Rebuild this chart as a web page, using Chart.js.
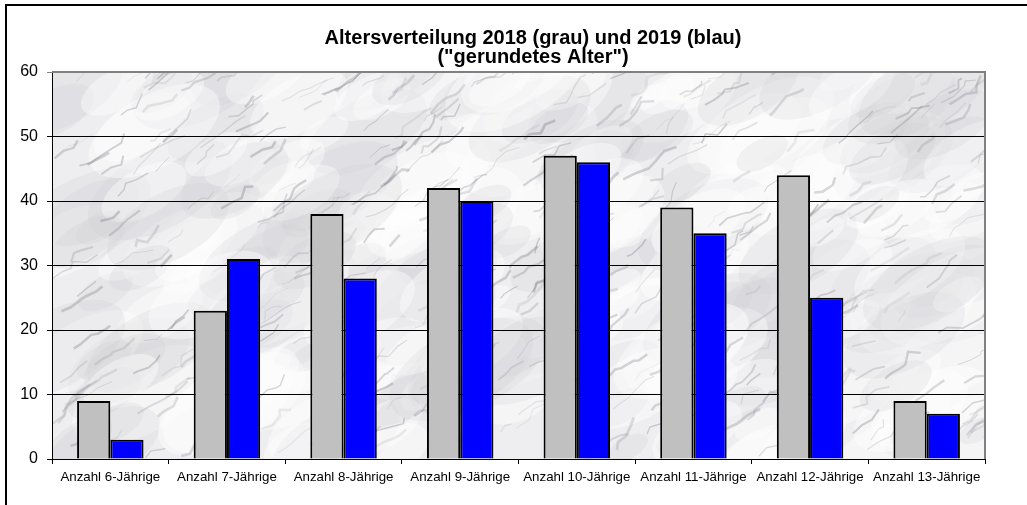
<!DOCTYPE html>
<html>
<head>
<meta charset="utf-8">
<script src="https://cdn.jsdelivr.net/npm/chart.js@4/dist/chart.umd.min.js"></script>
<style>
  html, body { margin: 0; padding: 0; background: #fff; }
  #wrap { width: 1027px; height: 505px; position: relative; }
</style>
</head>
<body>
<div id="wrap"><canvas id="c" width="1027" height="505"></canvas></div>
<script>
const categories = ['Anzahl 6-Jährige', 'Anzahl 7-Jährige', 'Anzahl 8-Jährige', 'Anzahl 9-Jährige',
  'Anzahl 10-Jährige', 'Anzahl 11-Jährige', 'Anzahl 12-Jährige', 'Anzahl 13-Jährige'];
const values2018 = [9, 23, 38, 42, 47, 39, 44, 9];
const values2019 = [3, 31, 28, 40, 46, 35, 25, 7];
const titleLines = ['Altersverteilung 2018 (grau) und 2019 (blau)', '("gerundetes Alter")'];

const FONT = 'Liberation Sans, Arial, sans-serif';

// marble-ish backdrop for the plot area (decoration only)
function makeMarble(w, h) {
  const cv = document.createElement('canvas');
  cv.width = w; cv.height = h;
  const g = cv.getContext('2d');
  g.fillStyle = '#eeeef0';
  g.fillRect(0, 0, w, h);
  let s = 12345;
  const rnd = () => { s = (s * 16807) % 2147483647; return s / 2147483647; };
  for (let i = 0; i < 260; i++) {
    const x = rnd() * w, y = rnd() * h;
    const r = 20 + rnd() * 60;
    g.fillStyle = rnd() < 0.55 ? 'rgba(255,255,255,0.4)' : 'rgba(205,205,210,0.22)';
    g.beginPath(); g.ellipse(x, y, r, r * 0.5, -0.5, 0, Math.PI * 2); g.fill();
  }
  for (let i = 0; i < 380; i++) {
    let x = rnd() * w, y = rnd() * h;
    g.strokeStyle = 'rgba(120,120,130,' + (0.1 + rnd() * 0.25) + ')';
    g.lineWidth = 0.8 + rnd() * 2;
    g.beginPath(); g.moveTo(x, y);
    const n = 2 + Math.floor(rnd() * 4);
    for (let k = 0; k < n; k++) {
      x += 3 + rnd() * 9; y -= 2 + rnd() * 7;
      g.lineTo(x + (rnd() - 0.5) * 5, y + (rnd() - 0.5) * 5);
    }
    g.stroke();
  }
  return cv;
}

const decor = {
  id: 'decor',
  beforeDraw(chart) {
    const { ctx, chartArea: a } = chart;
    ctx.save();
    if (!chart._marble) chart._marble = makeMarble(Math.ceil(a.right - a.left), Math.ceil(a.bottom - a.top));
    ctx.drawImage(chart._marble, a.left, a.top);
    // outer frame
    ctx.strokeStyle = '#000';
    ctx.lineWidth = 2;
    ctx.beginPath();
    ctx.moveTo(6, 505); ctx.lineTo(6, 5); ctx.lineTo(1027, 5);
    ctx.stroke();
    ctx.restore();
  },
  afterDraw(chart) {
    const { ctx, chartArea: a } = chart;
    ctx.save();
    ctx.strokeStyle = '#808080';
    ctx.lineWidth = 2;
    ctx.beginPath();
    ctx.moveTo(a.left, a.top); ctx.lineTo(a.right, a.top); ctx.lineTo(a.right, a.bottom);
    ctx.stroke();
    ctx.fillStyle = '#000';
    ctx.font = 'bold 20px ' + FONT;
    ctx.textAlign = 'center';
    ctx.textBaseline = 'alphabetic';
    ctx.fillText(titleLines[0], 533, 44);
    ctx.fillText(titleLines[1], 533, 63);
    ctx.restore();
  }
};

new Chart(document.getElementById('c'), {
  type: 'bar',
  data: {
    labels: categories,
    datasets: [
      { label: '2018', data: values2018, backgroundColor: '#c0c0c0', borderColor: '#000', borderWidth: 2 },
      { label: '2019', data: values2019, backgroundColor: '#0000ff', borderColor: '#000', borderWidth: 2 },
    ],
  },
  options: {
    responsive: false,
    animation: false,
    devicePixelRatio: 1,
    layout: { padding: { left: 0, right: 42, top: 72, bottom: 0 } },
    datasets: { bar: { barPercentage: 1, categoryPercentage: 0.57 } },
    plugins: { legend: { display: false }, title: { display: false }, tooltip: { enabled: false } },
    scales: {
      x: {
        grid: { drawOnChartArea: false, drawTicks: true, tickLength: 5, color: '#000' },
        border: { color: '#000', width: 1 },
        ticks: { color: '#000', font: { family: FONT, size: 13.3 }, padding: 5, maxRotation: 0, autoSkip: false },
        afterFit: (s) => { s.height = 46; },
      },
      y: {
        min: 0, max: 60,
        ticks: { stepSize: 10, color: '#000', font: { family: FONT, size: 16 }, padding: 9 },
        grid: { color: (c) => c.tick && c.tick.value === 60 ? '#808080' : '#000', tickLength: 5, lineWidth: 1 },
        border: { color: '#000', width: 1 },
        afterFit: (s) => { s.width = 52; },
      },
    },
  },
  plugins: [decor],
});
</script>
</body>
</html>
